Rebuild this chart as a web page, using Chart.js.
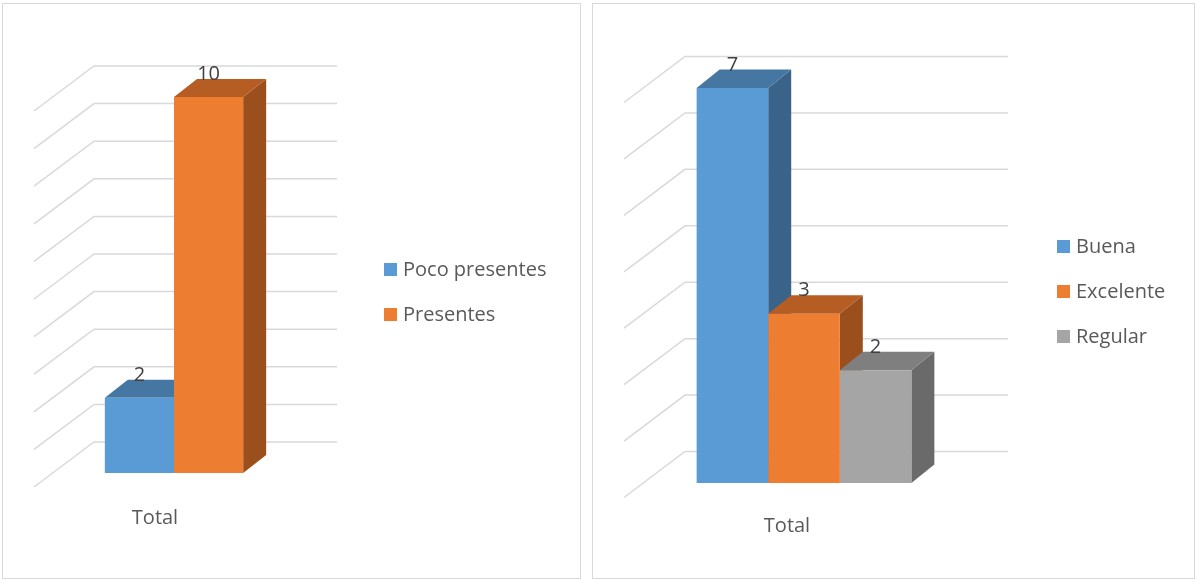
<!DOCTYPE html>
<html>
<head>
<meta charset="utf-8">
<script src="https://cdn.jsdelivr.net/npm/chart.js@4.4.1/dist/chart.umd.min.js"></script>
<style>
  body { margin: 0; background: #fff; font-family: 'Open Sans', sans-serif; }
  .box { position: absolute; top: 3px; height: 574px; border: 1px solid #d9d9d9; background: #fff; }
  #box1 { left: 2px; width: 577px; }
  #box2 { left: 592px; width: 601px; }
  .box canvas { position: absolute; left: 0; top: 0; }
  .item { position: absolute; height: 28px; display: flex; align-items: center; white-space: nowrap;
          font-size: 20px; line-height: 28px; color: #595959; }
  .item .sw { display: inline-block; width: 13px; height: 13px; margin-right: 6px; }
</style>
</head>
<body>
<div class="box" id="box1"><canvas id="chart1" width="577" height="574"></canvas></div>
<div class="box" id="box2"><canvas id="chart2" width="601" height="574"></canvas></div>
<script>
// data
const categories = ['Total'];

const names1 = ['Poco presentes', 'Presentes'];
const values1 = [2, 10];
const range1 = [0, 10];

const names2 = ['Buena', 'Excelente', 'Regular'];
const values2 = [7, 3, 2];
const range2 = [0, 7];

// colours: front, top, side
const frontColors = ['#5b9bd5', '#ed7d31', '#a5a5a5'];
const topColors = ['#4676a2', '#b55d22', '#7f7f7f'];
const sideColors = ['#396389', '#9a4f1d', '#6a6a6a'];

Chart.defaults.font.family = "'Open Sans', sans-serif";
Chart.defaults.animation = false;

// fake 3D: back wall grid, side/top faces and value labels
const bars3d = {
  id: 'bars3d',
  beforeDatasetsDraw(chart, args, o) {
    const ctx = chart.ctx;
    const area = chart.chartArea;
    const y = chart.scales.y;
    ctx.save();
    ctx.strokeStyle = '#d9d9d9';
    ctx.lineWidth = 1.5;
    for (let v = y.min; v <= y.max; v += 1) {
      const yb = y.getPixelForValue(v) - o.wallDy;
      ctx.beginPath();
      ctx.moveTo(area.left, yb + o.floorDy);
      ctx.lineTo(area.left + o.wallDx, yb);
      ctx.lineTo(area.right + o.wallRight, yb);
      ctx.stroke();
    }
    chart.data.datasets.forEach((ds, i) => {
      const bar = chart.getDatasetMeta(i).data[0];
      const l = bar.x - bar.width / 2;
      const r = bar.x + bar.width / 2;
      // side
      ctx.fillStyle = sideColors[i];
      ctx.beginPath();
      ctx.moveTo(r, bar.y);
      ctx.lineTo(r + o.dx, bar.y - o.dy);
      ctx.lineTo(r + o.dx, bar.base - o.dy);
      ctx.lineTo(r, bar.base);
      ctx.closePath();
      ctx.fill();
      // top
      ctx.fillStyle = topColors[i];
      ctx.beginPath();
      ctx.moveTo(l, bar.y);
      ctx.lineTo(r, bar.y);
      ctx.lineTo(r + o.dx, bar.y - o.dy);
      ctx.lineTo(l + o.dx, bar.y - o.dy);
      ctx.closePath();
      ctx.fill();
    });
    ctx.restore();
  },
  afterDatasetsDraw(chart, args, o) {
    const ctx = chart.ctx;
    ctx.save();
    ctx.font = "20px 'Open Sans', sans-serif";
    ctx.fillStyle = '#404040';
    ctx.textAlign = 'center';
    ctx.textBaseline = 'alphabetic';
    chart.data.datasets.forEach((ds, i) => {
      const bar = chart.getDatasetMeta(i).data[0];
      ctx.fillText(String(ds.data[0]), bar.x, bar.y - o.dy + 1);
    });
    ctx.restore();
  }
};

function buildLegend(chart, box, left, firstCenter, gap) {
  chart.data.datasets.forEach((ds, i) => {
    const item = document.createElement('div');
    item.className = 'item';
    item.style.left = left + 'px';
    item.style.top = (firstCenter + i * gap - 14) + 'px';
    const sw = document.createElement('span');
    sw.className = 'sw';
    sw.style.background = ds.backgroundColor;
    item.appendChild(sw);
    item.appendChild(document.createTextNode(ds.label));
    box.appendChild(item);
  });
}

function makeChart(id, names, values, range, look) {
  const datasets = names.map((n, i) => ({
    label: n,
    data: [values[i]],
    backgroundColor: frontColors[i],
    borderWidth: 0,
    categoryPercentage: look.catPct,
    barPercentage: 1
  }));
  return new Chart(document.getElementById(id), {
    type: 'bar',
    data: { labels: categories, datasets: datasets },
    options: {
      responsive: false,
      layout: { padding: look.padding },
      plugins: {
        legend: { display: false },
        tooltip: { enabled: false },
        bars3d: look.depth
      },
      scales: {
        x: {
          grid: { display: false, drawTicks: false },
          border: { display: false },
          ticks: { color: '#595959', font: { size: 20 }, padding: look.tickPad, labelOffset: look.labelOffset }
        },
        y: {
          display: false,
          min: range[0],
          max: range[1],
          ticks: { stepSize: 1 }
        }
      }
    },
    plugins: [bars3d]
  });
}

const chart1 = makeChart('chart1', names1, values1, range1, {
  catPct: 0.494,
  padding: { left: 31, right: 266, top: 93, bottom: 15 },
  tickPad: 33,
  labelOffset: -19,
  depth: { dx: 23, dy: 18, wallDx: 60, wallDy: 31, floorDy: 45, wallRight: 23 }
});
buildLegend(chart1, document.getElementById('box1'), 381, 265, 45);

const chart2 = makeChart('chart2', names2, values2, range2, {
  catPct: 0.5965,
  padding: { left: 31, right: 210, top: 84, bottom: 9 },
  tickPad: 31,
  labelOffset: -17,
  depth: { dx: 23, dy: 18.5, wallDx: 61, wallDy: 31.5, floorDy: 46, wallRight: 24 }
});
buildLegend(chart2, document.getElementById('box2'), 464, 242, 45);
</script>
</body>
</html>
